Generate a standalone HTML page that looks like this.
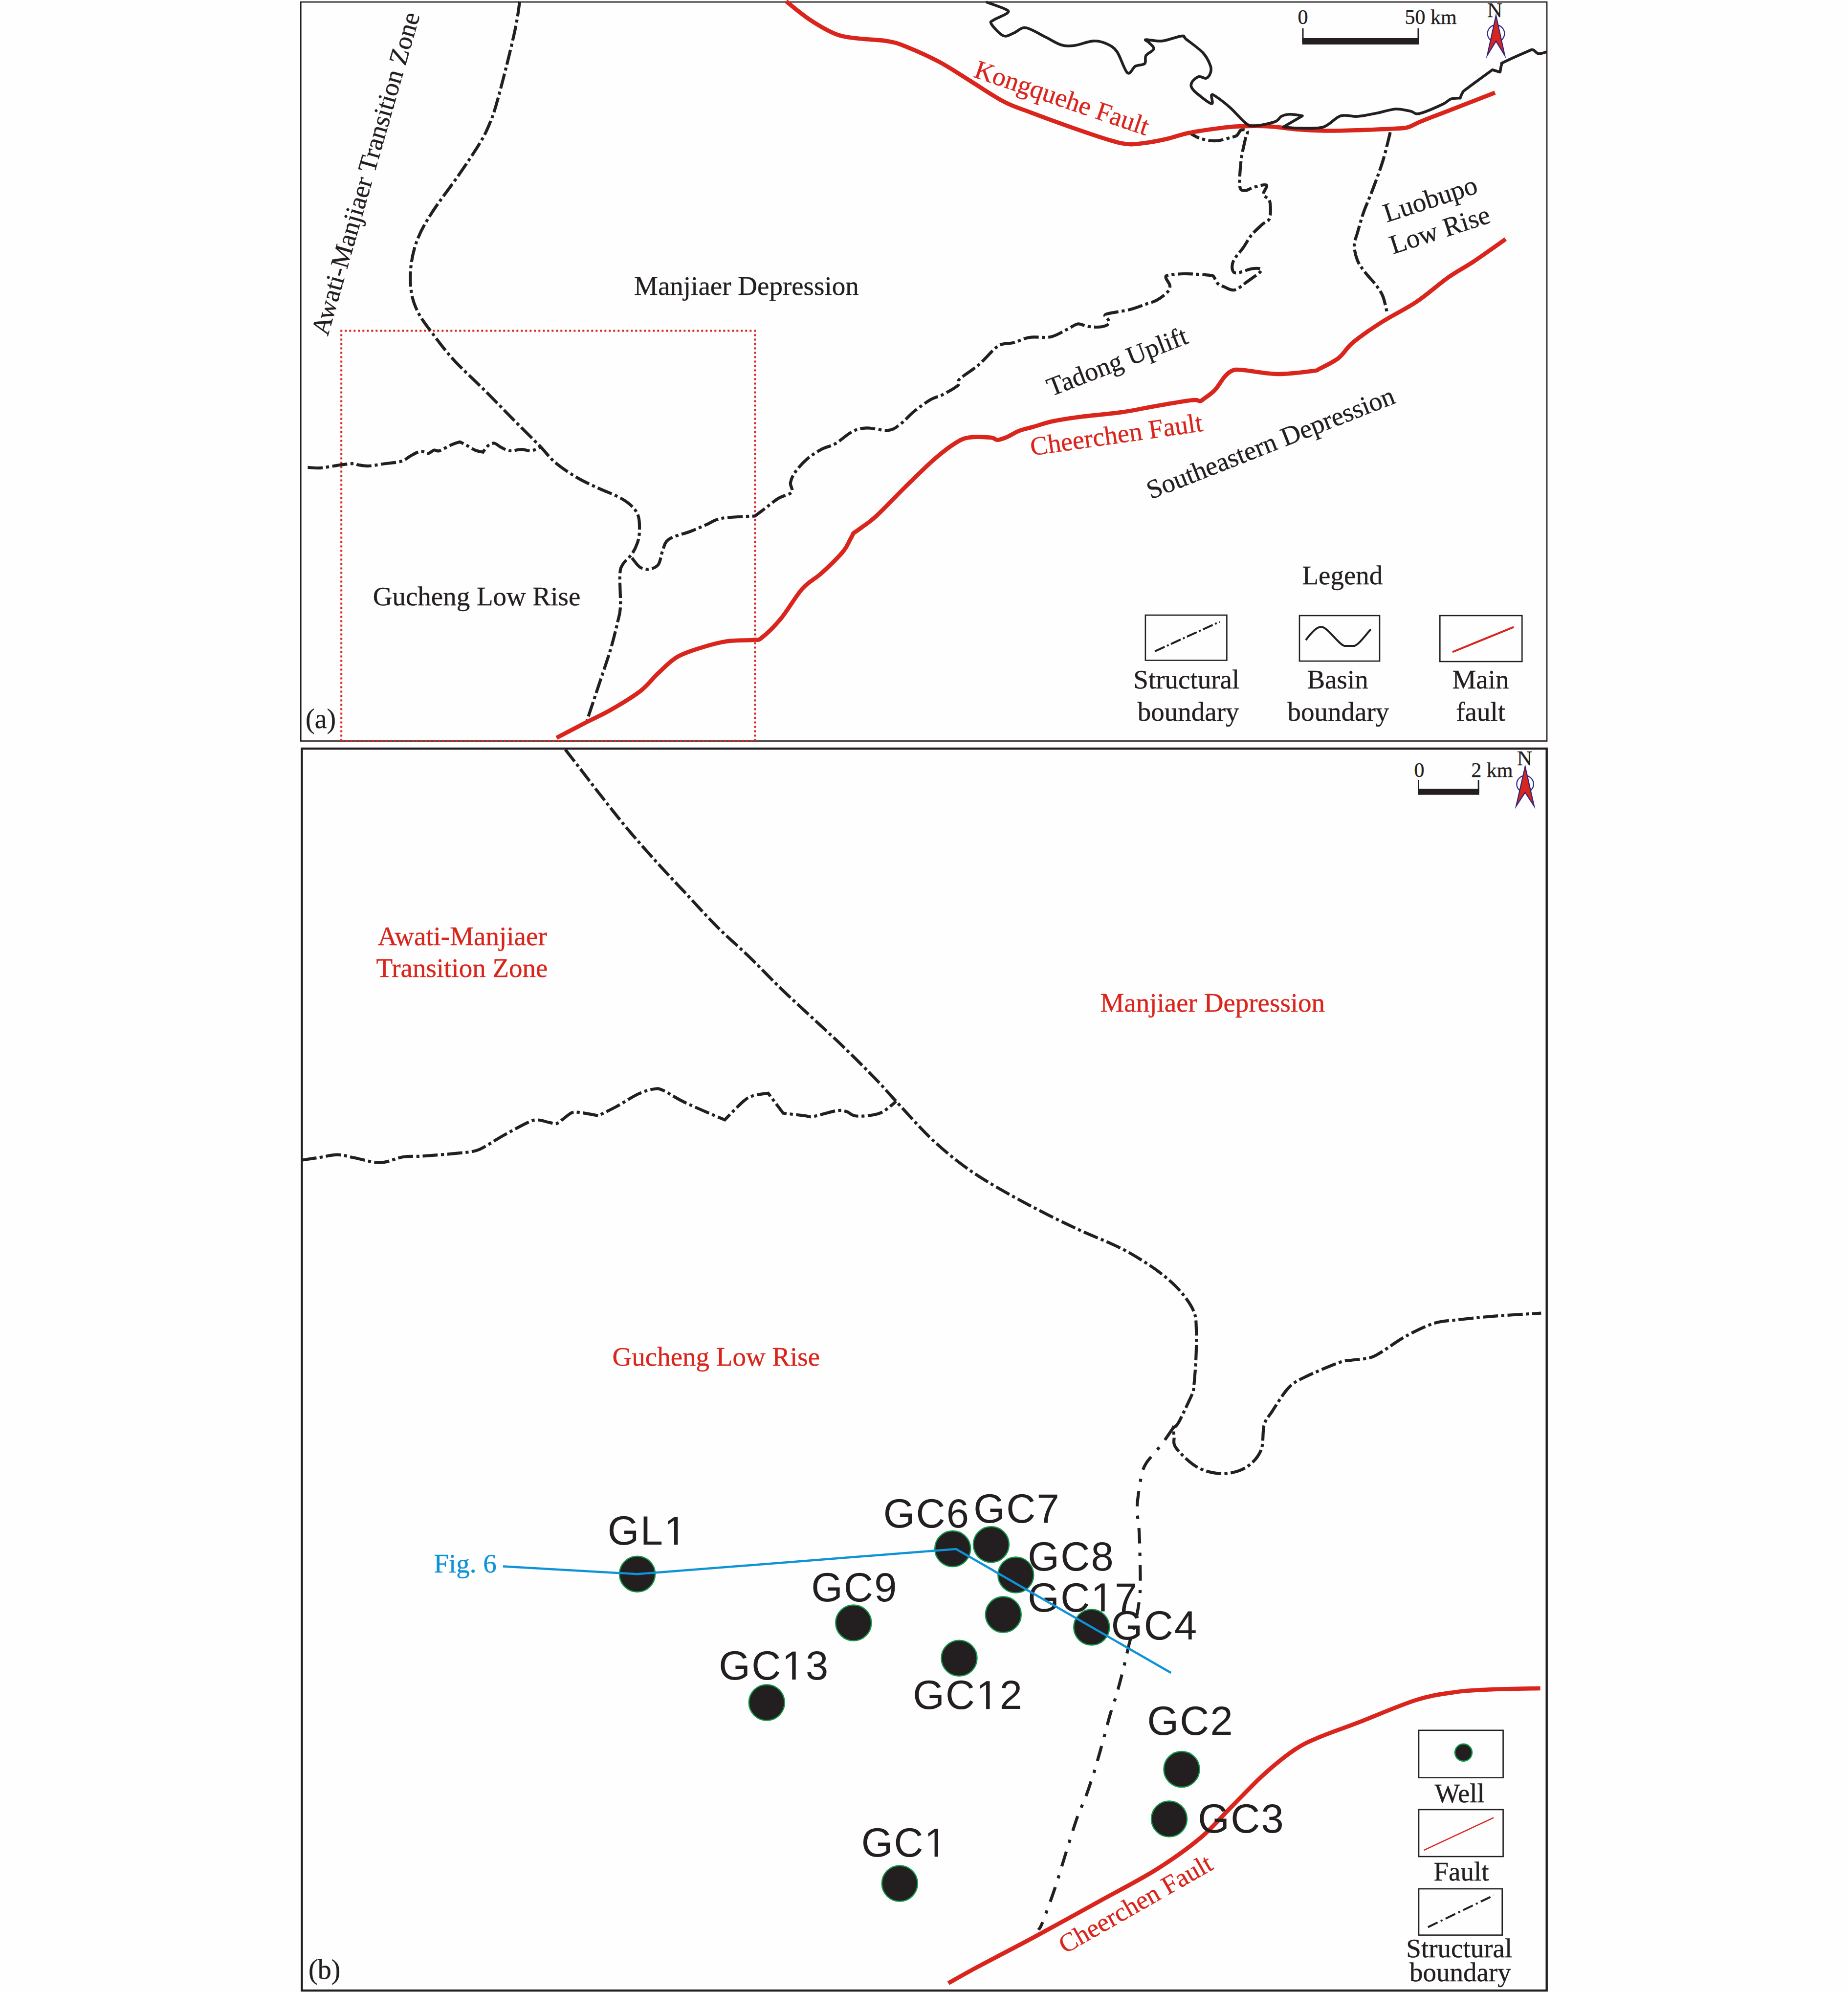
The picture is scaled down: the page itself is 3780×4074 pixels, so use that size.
<!DOCTYPE html>
<html><head><meta charset="utf-8"><style>
html,body{margin:0;padding:0;background:#fefefe;}
svg{display:block;}
</style></head><body>
<svg width="3780" height="4074" viewBox="0 0 3780 4074">
<rect x="0" y="0" width="3780" height="4074" fill="#fefefe"/>
<rect x="615.3" y="4.1" width="2548.8" height="1511.4" fill="none" stroke="#231f20" stroke-width="2.6"/>
<path d="M698.2,1515.5 L698.2,676.6 L1544.3,676.6 L1544.3,1515.5 L698.2,1515.5" fill="none" stroke="#da251d" stroke-width="4" stroke-dasharray="4 5"/>
<path d="M1063.0,3.0 C1061.7,11.5 1059.5,32.0 1055.0,54.0 C1050.5,76.0 1042.8,108.0 1036.0,135.0 C1029.2,162.0 1020.3,196.2 1014.5,216.0 C1008.7,235.8 1006.4,241.3 1001.0,254.0 C995.6,266.7 992.3,274.8 982.0,292.0 C971.7,309.2 955.2,333.5 939.0,357.0 C922.8,380.5 898.7,411.3 884.7,433.0 C870.7,454.7 862.3,469.0 855.0,487.0 C847.7,505.0 843.3,523.0 841.0,541.0 C838.7,559.0 838.7,578.8 841.0,595.0 C843.3,611.2 847.7,624.0 855.0,638.5 C862.3,653.0 872.5,665.8 884.7,682.0 C896.9,698.2 910.0,716.3 928.0,736.0 C946.0,755.7 972.8,779.8 993.0,800.0 C1013.2,820.2 1030.7,838.5 1049.0,857.0 C1067.3,875.5 1088.5,896.2 1103.0,911.0 C1117.5,925.8 1123.0,935.2 1135.7,946.0 C1148.4,956.8 1164.6,967.4 1179.0,976.0 C1193.4,984.6 1207.6,990.8 1222.0,997.6 C1236.4,1004.4 1253.8,1010.3 1265.6,1016.6 C1277.4,1022.9 1285.9,1028.8 1292.6,1035.5 C1299.3,1042.2 1303.5,1048.0 1306.0,1057.0 C1308.5,1066.0 1308.2,1080.6 1307.8,1089.6 C1307.4,1098.6 1306.0,1103.8 1303.5,1111.0 C1301.0,1118.2 1297.6,1125.8 1292.6,1133.0 C1287.6,1140.2 1277.8,1147.3 1273.7,1154.5 C1269.6,1161.7 1268.8,1161.6 1268.0,1176.0 C1267.2,1190.4 1269.8,1224.7 1269.0,1241.0 C1268.2,1257.3 1266.3,1259.1 1263.0,1273.6 C1259.7,1288.0 1254.9,1307.9 1249.0,1327.7 C1243.1,1347.5 1235.8,1368.2 1227.7,1392.6 C1219.6,1416.9 1205.1,1460.3 1200.6,1473.8" fill="none" stroke="#231f20" stroke-width="6.2" stroke-dasharray="31 6.6 6.2 6.6" stroke-dashoffset="0"/>
<path d="M629.5,955.8 C633.8,956.0 644.2,957.9 655.2,957.1 C666.2,956.3 684.5,952.4 695.8,950.9 C707.1,949.4 716.5,948.2 722.8,948.2 C729.1,948.2 728.4,950.1 733.6,950.9 C738.8,951.7 745.9,953.3 754.0,953.0 C762.1,952.7 771.3,950.6 782.3,949.0 C793.3,947.4 810.7,946.3 820.2,943.6 C829.7,940.9 833.8,935.8 839.2,932.8 C844.6,929.8 848.7,927.1 852.7,925.5 C856.8,923.9 859.7,923.0 863.5,923.3 C867.3,923.6 871.6,927.8 875.7,927.3 C879.8,926.8 884.1,921.5 887.9,920.6 C891.7,919.7 892.9,923.8 898.7,922.0 C904.6,920.2 916.0,912.8 923.0,909.8 C930.0,906.8 940.6,903.8 940.6,903.8 C940.6,903.8 947.6,907.0 952.8,909.8 C958.0,912.6 965.8,918.1 971.7,920.6 C977.6,923.1 988.0,924.6 988.0,924.6 C988.0,924.6 995.0,914.1 998.8,911.1 C1002.6,908.1 1007.0,906.0 1011.0,906.5 C1015.0,907.0 1018.8,911.4 1023.1,913.8 C1027.4,916.1 1032.6,919.2 1036.7,920.6 C1040.8,922.0 1042.5,922.1 1047.5,921.9 C1052.5,921.7 1060.1,919.2 1066.4,919.2 C1072.7,919.2 1079.5,922.4 1085.4,921.9 C1091.3,921.4 1098.5,918.0 1101.6,916.5 C1104.7,915.0 1103.6,913.6 1104.0,913.0" fill="none" stroke="#231f20" stroke-width="6.2" stroke-dasharray="31 6.6 6.2 6.6" stroke-dashoffset="0"/>
<path d="M1292.6,1141.0 C1295.3,1144.2 1303.1,1156.2 1309.0,1160.0 C1314.9,1163.8 1321.5,1164.9 1327.8,1164.0 C1334.1,1163.1 1342.2,1160.6 1346.7,1154.5 C1351.2,1148.4 1351.5,1136.1 1355.0,1127.5 C1358.5,1118.9 1358.5,1109.8 1368.0,1103.0 C1377.5,1096.2 1399.0,1091.9 1411.7,1087.0 C1424.4,1082.1 1433.2,1077.9 1444.0,1073.4 C1454.8,1068.9 1459.9,1063.0 1476.6,1060.0 C1493.3,1057.0 1544.0,1055.5 1544.0,1055.5 C1544.0,1055.5 1555.2,1047.1 1563.3,1041.0 C1571.4,1034.9 1583.2,1024.7 1592.5,1019.0 C1601.8,1013.3 1615.2,1012.1 1619.3,1006.8 C1623.4,1001.5 1615.7,994.2 1616.9,987.3 C1618.1,980.4 1620.9,973.5 1626.6,965.4 C1632.3,957.3 1642.1,946.3 1651.0,938.6 C1659.9,930.9 1670.5,924.3 1680.2,919.0 C1689.9,913.7 1698.9,913.1 1709.4,907.0 C1720.0,900.9 1733.0,887.9 1743.5,882.6 C1754.0,877.3 1760.5,875.7 1772.7,875.3 C1784.9,874.9 1805.2,881.4 1816.6,880.2 C1828.0,879.0 1832.1,874.5 1841.0,868.0 C1849.9,861.5 1859.5,849.7 1870.0,841.2 C1880.5,832.7 1894.4,822.6 1904.2,816.9 C1914.0,811.2 1919.3,811.9 1928.6,807.0 C1937.9,802.1 1954.3,793.0 1960.0,787.7 C1965.7,782.5 1955.8,782.4 1962.7,775.5 C1969.6,768.6 1989.4,756.8 2001.6,746.3 C2013.8,735.8 2027.3,719.3 2035.7,712.2 C2044.1,705.1 2045.7,705.4 2052.0,703.5 C2058.3,701.6 2064.6,703.0 2073.6,700.8 C2082.6,698.5 2093.4,692.0 2106.0,690.0 C2118.6,688.0 2136.3,691.7 2149.0,689.0 C2161.7,686.3 2172.8,678.4 2182.0,674.0 C2191.2,669.6 2197.8,663.7 2204.5,662.5 C2211.2,661.3 2215.4,665.9 2222.0,667.0 C2228.6,668.1 2237.3,669.2 2244.0,669.0 C2250.7,668.8 2257.8,667.7 2262.0,666.0 C2266.2,664.3 2268.7,661.7 2269.0,659.0 C2269.3,656.3 2265.5,652.3 2264.0,650.0 C2262.5,647.7 2259.3,646.5 2260.0,645.0 C2260.7,643.5 2259.4,643.0 2268.0,641.0 C2276.6,639.0 2299.0,636.2 2311.7,633.0 C2324.4,629.8 2334.9,625.2 2344.0,622.0 C2353.1,618.8 2358.8,618.0 2366.0,614.0 C2373.2,610.0 2382.9,602.9 2387.4,598.0 C2391.9,593.1 2393.4,589.4 2393.0,584.4 C2392.6,579.4 2385.2,571.6 2384.7,568.0 C2384.2,564.4 2384.1,564.1 2390.0,562.8 C2395.9,561.5 2411.2,560.4 2420.0,560.0 C2428.8,559.6 2434.0,560.1 2443.0,560.6 C2452.0,561.1 2467.5,562.1 2474.0,562.8 C2480.5,563.5 2479.2,562.1 2482.0,565.0 C2484.8,567.9 2487.3,576.4 2491.0,580.0 C2494.7,583.6 2498.2,584.4 2504.0,586.6 C2509.8,588.8 2517.6,594.8 2525.5,593.0 C2533.4,591.2 2542.8,581.9 2551.5,575.8 C2560.2,569.7 2573.2,560.6 2577.5,556.3 C2581.8,552.0 2580.4,550.9 2577.5,549.8 C2574.6,548.7 2567.9,548.4 2560.0,549.8 C2552.1,551.2 2536.5,558.0 2530.0,558.4 C2523.5,558.8 2522.1,556.3 2521.0,552.0 C2519.9,547.7 2519.7,540.1 2523.4,532.5 C2527.1,524.9 2536.9,515.2 2543.0,506.5 C2549.1,497.8 2553.5,488.4 2560.0,480.5 C2566.5,472.6 2575.6,464.8 2581.8,459.0 C2588.0,453.2 2594.5,454.0 2597.0,446.0 C2599.5,438.0 2599.2,419.0 2597.0,411.0 C2594.8,403.0 2585.1,403.4 2584.0,398.0 C2582.9,392.6 2593.8,381.3 2590.5,378.8 C2587.2,376.3 2571.8,381.2 2564.5,383.0 C2557.2,384.8 2551.8,389.9 2547.0,389.6 C2542.2,389.3 2537.4,391.1 2536.0,381.0 C2534.6,370.9 2536.7,344.9 2538.5,329.0 C2540.3,313.1 2544.8,295.8 2547.0,285.7 C2549.2,275.6 2552.9,271.7 2551.5,268.4 C2550.1,265.1 2542.1,264.6 2538.5,266.0 C2534.9,267.4 2533.6,274.4 2530.0,277.0 C2526.4,279.6 2524.2,279.6 2517.0,281.4 C2509.8,283.2 2496.8,287.6 2486.6,288.0 C2476.4,288.4 2464.7,286.1 2456.0,283.5 C2447.3,280.9 2438.2,274.5 2434.6,272.7" fill="none" stroke="#231f20" stroke-width="6.2" stroke-dasharray="31 6.6 6.2 6.6" stroke-dashoffset="0"/>
<path d="M2843.7,270.6 C2841.2,280.3 2834.7,309.2 2828.6,329.0 C2822.5,348.8 2813.5,372.3 2807.0,389.6 C2800.5,406.9 2794.7,418.6 2789.6,433.0 C2784.5,447.4 2779.9,464.5 2776.6,476.0 C2773.3,487.5 2770.0,492.6 2770.0,502.0 C2770.0,511.4 2773.0,523.5 2776.6,532.5 C2780.2,541.5 2785.3,547.6 2791.8,556.3 C2798.3,564.9 2809.5,576.1 2815.6,584.4 C2821.7,592.7 2825.0,597.0 2828.6,606.0 C2832.2,615.0 2835.6,633.1 2837.0,638.5" fill="none" stroke="#231f20" stroke-width="6.2" stroke-dasharray="31 6.6 6.2 6.6" stroke-dashoffset="0"/>
<path d="M1608.0,2.7 C1616.2,9.0 1639.8,29.3 1657.0,40.6 C1674.2,51.9 1694.8,64.0 1711.0,70.3 C1727.2,76.6 1736.8,76.2 1754.0,78.5 C1771.2,80.8 1797.7,81.2 1814.0,83.9 C1830.3,86.6 1833.7,87.5 1851.7,94.7 C1869.7,101.9 1899.5,115.0 1922.0,127.0 C1944.5,139.1 1965.0,153.4 1987.0,167.0 C2009.0,180.6 2033.8,197.8 2054.0,208.3 C2074.2,218.8 2085.6,221.4 2108.2,230.0 C2130.8,238.6 2162.3,250.2 2189.4,259.7 C2216.5,269.2 2250.3,280.9 2270.6,286.8 C2290.9,292.7 2297.5,294.3 2311.0,295.0 C2324.5,295.7 2338.1,292.9 2351.7,290.9 C2365.2,288.8 2378.9,285.9 2392.3,282.7 C2405.7,279.5 2413.6,275.3 2432.3,271.7 C2451.0,268.1 2486.4,263.1 2504.5,260.8 C2522.6,258.5 2525.6,258.5 2540.7,258.1 C2555.8,257.7 2575.0,257.2 2594.8,258.4 C2614.6,259.5 2637.3,263.5 2659.7,265.0 C2682.1,266.5 2697.4,267.8 2729.0,267.5 C2760.6,267.2 2824.4,264.4 2849.4,263.2 C2874.4,262.0 2870.0,262.8 2879.0,260.5 C2888.0,258.2 2895.0,253.2 2903.5,249.6 C2912.0,246.0 2920.1,242.8 2930.0,239.0 C2939.9,235.2 2941.5,234.8 2962.8,226.5 C2984.1,218.2 3042.1,195.7 3058.0,189.5" fill="none" stroke="#da251d" stroke-width="8.6" stroke-linejoin="round"/>
<path d="M1138.4,1509.0 C1148.8,1503.6 1182.2,1486.0 1200.6,1476.5 C1219.0,1467.0 1230.9,1462.4 1249.0,1452.0 C1267.1,1441.6 1292.7,1426.6 1309.0,1414.0 C1325.3,1401.4 1334.1,1388.1 1346.7,1376.4 C1359.3,1364.7 1370.2,1352.6 1384.6,1344.0 C1399.0,1335.4 1415.9,1330.4 1433.0,1325.0 C1450.1,1319.6 1468.9,1314.2 1487.0,1311.5 C1505.1,1308.8 1529.7,1310.0 1541.6,1308.8 C1553.5,1307.5 1549.1,1311.3 1558.4,1304.0 C1567.7,1296.7 1583.6,1281.7 1597.4,1265.0 C1611.2,1248.3 1627.4,1219.4 1641.2,1204.0 C1655.0,1188.6 1666.4,1185.0 1680.2,1172.4 C1694.0,1159.8 1714.3,1140.0 1724.0,1128.6 C1733.7,1117.2 1735.0,1110.5 1738.6,1104.2 C1742.2,1097.9 1745.4,1090.7 1745.4,1090.7 C1745.4,1090.7 1754.2,1084.9 1762.0,1079.0 C1769.8,1073.1 1777.4,1069.2 1792.2,1055.5 C1807.0,1041.8 1831.2,1016.1 1850.7,997.0 C1870.2,977.9 1892.0,956.0 1909.0,941.0 C1926.0,926.0 1940.8,914.7 1953.0,907.0 C1965.2,899.3 1969.8,896.8 1982.0,894.8 C1994.2,892.8 2016.2,894.0 2026.0,894.8 C2035.8,895.6 2034.9,899.9 2040.6,899.7 C2046.3,899.5 2052.7,896.9 2060.0,893.8 C2067.3,890.7 2075.5,884.7 2084.4,881.2 C2093.3,877.7 2102.2,876.2 2113.6,873.0 C2125.0,869.8 2136.5,865.1 2152.6,861.7 C2168.7,858.3 2186.0,855.6 2210.0,852.5 C2234.0,849.4 2271.3,846.4 2296.5,842.8 C2321.7,839.2 2339.8,834.7 2361.4,830.9 C2383.0,827.1 2412.2,822.1 2426.3,820.0 C2440.4,817.9 2441.3,817.9 2446.0,818.0 C2450.7,818.1 2451.8,820.8 2454.5,820.5 C2457.2,820.2 2456.9,819.8 2462.0,816.0 C2467.1,812.2 2477.9,805.3 2485.0,797.8 C2492.1,790.3 2498.8,777.5 2504.5,771.0 C2510.2,764.5 2513.3,761.2 2519.0,758.8 C2524.7,756.4 2523.2,755.4 2538.6,756.4 C2554.0,757.4 2587.3,764.6 2611.7,765.0 C2636.0,765.4 2670.1,760.6 2684.7,758.8 C2699.3,757.0 2690.5,758.5 2699.4,754.0 C2708.3,749.5 2727.0,740.9 2738.3,732.0 C2749.7,723.1 2752.9,712.6 2767.5,700.4 C2782.1,688.2 2804.3,672.9 2826.0,659.0 C2847.7,645.1 2875.0,632.3 2897.8,617.0 C2920.6,601.7 2943.3,580.7 2962.8,567.0 C2982.3,553.3 2995.2,547.6 3014.7,534.6 C3034.2,521.6 3068.8,496.6 3079.6,489.0" fill="none" stroke="#da251d" stroke-width="8.6" stroke-linejoin="round"/>
<path d="M2016.8,4.0 C2023.5,6.5 2049.8,15.2 2057.0,19.0 C2064.2,22.8 2064.0,23.4 2060.0,27.0 C2056.0,30.6 2038.4,37.0 2033.0,40.6 C2027.6,44.2 2024.4,43.3 2027.6,48.7 C2030.8,54.1 2044.3,69.8 2052.0,73.0 C2059.7,76.2 2065.9,70.3 2073.6,67.6 C2081.3,64.9 2087.2,55.4 2098.0,56.8 C2108.8,58.2 2126.3,69.9 2138.5,75.8 C2150.7,81.7 2161.1,89.1 2171.0,92.0 C2180.9,94.9 2187.2,94.3 2198.0,93.0 C2208.8,91.7 2225.2,84.5 2236.0,83.9 C2246.8,83.3 2254.9,85.7 2263.0,89.3 C2271.1,92.9 2277.4,95.6 2284.6,105.5 C2291.8,115.4 2299.7,143.8 2306.0,148.8 C2312.3,153.8 2316.6,138.4 2322.5,135.3 C2328.4,132.2 2337.9,133.6 2341.5,130.0 C2345.1,126.4 2340.9,118.6 2344.0,113.6 C2347.1,108.6 2359.1,104.5 2360.0,100.0 C2360.9,95.5 2352.3,89.8 2349.6,86.6 C2346.9,83.4 2339.5,81.5 2344.0,81.0 C2348.5,80.5 2364.4,85.1 2376.6,83.9 C2388.8,82.7 2409.1,74.2 2417.3,73.6 C2425.5,72.9 2418.8,74.3 2426.0,80.0 C2433.2,85.7 2452.3,99.0 2460.6,108.0 C2468.9,117.0 2473.3,127.3 2475.8,134.2 C2478.3,141.1 2477.3,145.1 2475.8,149.4 C2474.3,153.7 2471.0,158.8 2467.0,160.0 C2463.0,161.2 2456.7,155.6 2452.0,156.7 C2447.3,157.8 2441.5,163.2 2439.0,166.7 C2436.5,170.2 2435.4,173.5 2436.8,177.5 C2438.2,181.5 2440.7,184.8 2447.6,190.5 C2454.5,196.2 2472.9,211.3 2478.0,212.0 C2483.1,212.7 2476.6,197.3 2478.0,194.8 C2479.4,192.3 2480.1,192.7 2486.6,197.0 C2493.1,201.3 2506.9,211.8 2517.0,220.8 C2527.1,229.8 2539.1,244.9 2547.0,251.0 C2554.9,257.1 2554.4,257.9 2564.5,257.6 C2574.6,257.3 2598.4,252.3 2607.8,249.0 C2617.2,245.7 2615.8,240.5 2620.8,238.0 C2625.8,235.5 2630.8,234.0 2638.0,233.8 C2645.2,233.6 2664.0,237.0 2664.0,237.0 C2664.0,237.0 2625.0,259.7 2625.0,259.7 C2625.0,259.7 2646.0,262.0 2659.7,262.0 C2673.4,262.0 2693.3,263.9 2707.0,259.7 C2720.7,255.5 2730.4,240.6 2742.0,237.0 C2753.6,233.4 2764.3,238.9 2776.6,238.0 C2788.9,237.1 2802.6,234.1 2815.6,231.6 C2828.6,229.1 2843.0,223.7 2854.5,223.0 C2866.0,222.3 2876.6,225.8 2884.8,227.3 C2893.0,228.8 2892.5,234.5 2903.5,232.2 C2914.5,229.9 2939.9,218.4 2950.6,213.4 C2961.3,208.4 2961.9,204.5 2967.9,202.4 C2973.9,200.3 2986.7,200.8 2986.7,200.8 C2986.7,200.8 2989.3,193.0 2991.4,189.9 C2993.5,186.8 2989.1,189.8 2999.3,182.0 C3009.5,174.2 3052.6,142.8 3052.6,142.8 C3052.6,142.8 3068.3,147.5 3068.3,147.5 C3068.3,147.5 3070.2,135.2 3071.5,131.8 C3072.8,128.4 3067.3,131.6 3076.2,127.1 C3085.1,122.6 3114.9,109.3 3124.8,105.1 C3134.7,100.9 3132.1,101.2 3135.8,102.0 C3139.5,102.8 3142.1,109.1 3146.8,109.8 C3151.5,110.5 3161.1,106.6 3164.0,106.0" fill="none" stroke="#231f20" stroke-width="5.6" stroke-linejoin="round"/>
<text x="1297.0" y="603.4" font-family="Liberation Serif" font-size="55.0" fill="#231f20" stroke="#231f20" stroke-width="0.40" >Manjiaer Depression</text>
<text x="762.7" y="1238.4" font-family="Liberation Serif" font-size="55.0" fill="#231f20" stroke="#231f20" stroke-width="0.40" >Gucheng Low Rise</text>
<text x="2663.4" y="1194.7" font-family="Liberation Serif" font-size="55.0" fill="#231f20" stroke="#231f20" stroke-width="0.40" >Legend</text>
<text x="2318.3" y="1408.0" font-family="Liberation Serif" font-size="55.0" fill="#231f20" stroke="#231f20" stroke-width="0.40" >Structural</text>
<text x="2326.8" y="1473.8" font-family="Liberation Serif" font-size="55.0" fill="#231f20" stroke="#231f20" stroke-width="0.40" >boundary</text>
<text x="2673.4" y="1408.0" font-family="Liberation Serif" font-size="55.0" fill="#231f20" stroke="#231f20" stroke-width="0.40" >Basin</text>
<text x="2633.6" y="1473.8" font-family="Liberation Serif" font-size="55.0" fill="#231f20" stroke="#231f20" stroke-width="0.40" >boundary</text>
<text x="2970.4" y="1408.0" font-family="Liberation Serif" font-size="55.0" fill="#231f20" stroke="#231f20" stroke-width="0.40" >Main</text>
<text x="2978.3" y="1473.8" font-family="Liberation Serif" font-size="55.0" fill="#231f20" stroke="#231f20" stroke-width="0.40" >fault</text>
<text x="625.1" y="1489.3" font-family="Liberation Serif" font-size="56.0" fill="#231f20" stroke="#231f20" stroke-width="0.40" >(a)</text>
<text x="2654.4" y="48.8" font-family="Liberation Serif" font-size="42.0" fill="#231f20" stroke="#231f20" stroke-width="0.40" >0</text>
<text x="2873.6" y="48.8" font-family="Liberation Serif" font-size="42.0" fill="#231f20" stroke="#231f20" stroke-width="0.40" >50 km</text>
<text x="3042.0" y="35.2" font-family="Liberation Serif" font-size="43.0" fill="#231f20" stroke="#231f20" stroke-width="0.40" >N</text>
<text x="670.5" y="688.6" font-family="Liberation Serif" font-size="53.0" fill="#231f20" stroke="#231f20" stroke-width="0.40" transform="rotate(-74.00 670.5 688.6)" >Awati-Manjiaer Transition Zone</text>
<text x="1989.7" y="157.0" font-family="Liberation Serif" font-size="54.0" fill="#da251d" stroke="#da251d" stroke-width="0.40" transform="rotate(18.80 1989.7 157.0)" >Kongquehe Fault</text>
<text x="2150.0" y="811.0" font-family="Liberation Serif" font-size="54.0" fill="#231f20" stroke="#231f20" stroke-width="0.40" transform="rotate(-21.20 2150.0 811.0)" >Tadong Uplift</text>
<text x="2836.5" y="455.0" font-family="Liberation Serif" font-size="55.0" fill="#231f20" stroke="#231f20" stroke-width="0.40" transform="rotate(-18.00 2836.5 455.0)" >Luobupo</text>
<text x="2849.5" y="520.0" font-family="Liberation Serif" font-size="55.0" fill="#231f20" stroke="#231f20" stroke-width="0.40" transform="rotate(-18.00 2849.5 520.0)" >Low Rise</text>
<text x="2110.0" y="932.0" font-family="Liberation Serif" font-size="54.0" fill="#da251d" stroke="#da251d" stroke-width="0.40" transform="rotate(-8.20 2110.0 932.0)" >Cheerchen Fault</text>
<text x="2354.0" y="1021.5" font-family="Liberation Serif" font-size="54.5" fill="#231f20" stroke="#231f20" stroke-width="0.40" transform="rotate(-21.50 2354.0 1021.5)" >Southeastern Depression</text>
<rect x="2342.9" y="1258.0" width="166.5" height="92.5" fill="none" stroke="#231f20" stroke-width="2.6"/>
<rect x="2658.0" y="1259.0" width="164.0" height="93.0" fill="none" stroke="#231f20" stroke-width="2.6"/>
<rect x="2945.3" y="1259.0" width="168.0" height="94.0" fill="none" stroke="#231f20" stroke-width="2.6"/>
<path d="M2362.3,1332 L2494.8,1271.6" fill="none" stroke="#231f20" stroke-width="4" stroke-dasharray="22 5 4 5"/>
<path d="M2671,1309 C2685,1290 2695,1281 2703,1282 C2716,1283 2738,1318 2750,1321 L2770,1321 C2780,1318 2792,1300 2804,1287.2" fill="none" stroke="#231f20" stroke-width="4"/>
<path d="M2971,1333.5 L3096.3,1282.4" fill="none" stroke="#da251d" stroke-width="4"/>
<path d="M2665,58 L2665,85 L2901,85 L2901,58" fill="none" stroke="#231f20" stroke-width="3"/>
<rect x="2663.5" y="78" width="239" height="13" fill="#231f20"/>
<circle cx="3060.0" cy="68.6" r="17.4" fill="none" stroke="#2b2681" stroke-width="2.2"/>
<path d="M3060.0,31.7 L3078.0,113.5 L3060.0,84.2 L3042.0,113.5 Z" fill="#da251d" stroke="#2b2681" stroke-width="2.2" stroke-linejoin="miter" stroke-miterlimit="20"/>
<rect x="617.4" y="1531" width="2546.3" height="2540.0" fill="none" stroke="#231f20" stroke-width="4.4"/>
<path d="M1156.3,1533.0 C1161.3,1539.5 1174.3,1556.1 1186.6,1572.0 C1198.9,1587.9 1214.0,1608.0 1229.9,1628.2 C1245.8,1648.4 1263.0,1670.8 1281.8,1693.2 C1300.5,1715.6 1322.2,1740.0 1342.4,1762.4 C1362.6,1784.8 1382.1,1805.0 1403.0,1827.4 C1423.9,1849.8 1446.3,1875.0 1468.0,1896.6 C1489.7,1918.2 1511.3,1936.3 1532.9,1957.2 C1554.5,1978.1 1576.2,2001.3 1597.8,2022.2 C1619.4,2043.1 1641.1,2062.6 1662.8,2082.8 C1684.5,2103.0 1706.1,2122.5 1727.7,2143.4 C1749.3,2164.3 1775.1,2190.2 1792.6,2208.3 C1810.1,2226.4 1814.8,2232.8 1832.8,2252.2 C1850.8,2271.6 1879.2,2303.9 1900.4,2324.5 C1921.6,2345.1 1940.2,2360.6 1960.0,2375.9 C1979.8,2391.2 1995.2,2401.6 2019.5,2416.5 C2043.8,2431.4 2076.2,2449.4 2106.0,2465.2 C2135.8,2480.9 2168.2,2497.0 2198.0,2511.0 C2227.8,2525.0 2262.0,2538.2 2284.6,2549.0 C2307.2,2559.8 2318.0,2566.5 2333.3,2576.0 C2348.6,2585.5 2363.1,2595.0 2376.6,2605.8 C2390.1,2616.6 2403.7,2628.4 2414.5,2641.0 C2425.3,2653.6 2436.2,2668.5 2441.6,2681.6 C2447.0,2694.7 2446.3,2702.4 2447.0,2719.5 C2447.7,2736.6 2447.0,2763.3 2446.0,2784.4 C2445.0,2805.5 2441.0,2846.0 2441.0,2846.0 C2441.0,2846.0 2418.3,2895.5 2411.6,2907.7 C2404.8,2919.9 2400.5,2919.0 2400.5,2919.0 C2400.5,2919.0 2400.6,2930.8 2401.5,2938.0 C2402.4,2945.2 2398.0,2951.4 2406.0,2961.9 C2414.0,2972.4 2433.5,2992.2 2449.4,3000.9 C2465.3,3009.6 2484.7,3013.9 2501.3,3013.9 C2517.9,3013.9 2535.9,3008.9 2548.9,3000.9 C2561.9,2992.9 2573.1,2980.6 2579.2,2966.2 C2585.3,2951.8 2581.9,2927.6 2585.7,2914.3 C2589.5,2901.1 2593.6,2899.4 2602.0,2886.7 C2610.4,2874.0 2624.7,2849.8 2636.0,2838.0 C2647.3,2826.2 2652.9,2824.5 2670.0,2816.0 C2687.1,2807.5 2722.9,2792.6 2738.3,2786.9 C2753.8,2781.2 2752.1,2783.6 2762.7,2782.0 C2773.2,2780.4 2791.0,2779.9 2801.6,2777.1 C2812.2,2774.3 2813.8,2772.3 2826.0,2765.0 C2838.2,2757.7 2856.9,2743.1 2874.7,2733.3 C2892.5,2723.6 2915.2,2712.2 2933.0,2706.5 C2950.8,2700.8 2961.5,2701.6 2981.8,2699.2 C3002.1,2696.8 3026.5,2694.2 3054.9,2691.9 C3083.3,2689.6 3136.1,2686.7 3152.3,2685.6" fill="none" stroke="#231f20" stroke-width="6.2" stroke-dasharray="31 6.6 6.2 6.6" stroke-dashoffset="0"/>
<path d="M616.7,2372.7 C622.3,2371.9 638.0,2369.5 650.3,2367.7 C662.6,2365.9 678.2,2361.7 690.5,2361.7 C702.8,2361.7 709.6,2365.0 724.1,2367.7 C738.6,2370.4 761.0,2378.1 777.8,2377.8 C794.6,2377.5 810.3,2368.2 824.8,2366.0 C839.3,2363.8 844.9,2365.8 865.0,2364.4 C885.1,2363.0 927.1,2359.7 945.6,2357.7 C964.1,2355.7 967.4,2355.1 975.8,2352.6 C984.2,2350.1 986.9,2347.6 995.9,2342.6 C1004.9,2337.6 1015.5,2330.2 1029.5,2322.4 C1043.5,2314.6 1068.1,2300.9 1079.8,2295.6 C1091.5,2290.3 1092.6,2290.5 1099.9,2290.5 C1107.2,2290.5 1117.0,2294.4 1123.4,2295.6 C1129.8,2296.8 1133.5,2299.3 1138.5,2297.9 C1143.5,2296.5 1148.3,2290.9 1153.6,2287.2 C1158.9,2283.4 1164.8,2277.4 1170.4,2275.4 C1176.0,2273.4 1178.4,2274.3 1187.2,2275.4 C1196.0,2276.5 1223.4,2281.8 1223.4,2281.8 C1223.4,2281.8 1247.3,2270.5 1260.9,2263.1 C1274.5,2255.7 1292.4,2243.5 1305.2,2237.5 C1318.0,2231.5 1329.1,2228.6 1337.6,2227.3 C1346.1,2226.1 1345.9,2225.4 1356.4,2230.0 C1366.9,2234.6 1379.7,2244.5 1400.7,2254.6 C1421.7,2264.7 1482.5,2290.4 1482.5,2290.4 C1482.5,2290.4 1510.3,2261.1 1520.0,2252.8 C1529.7,2244.6 1532.0,2243.7 1540.5,2240.9 C1549.0,2238.1 1571.2,2235.8 1571.2,2235.8 C1571.2,2235.8 1601.9,2276.7 1601.9,2276.7 C1601.9,2276.7 1636.0,2280.7 1646.2,2281.8 C1656.4,2282.9 1652.4,2285.2 1663.2,2283.5 C1674.0,2281.8 1699.6,2273.3 1711.0,2271.6 C1722.4,2269.9 1724.6,2271.5 1731.4,2273.3 C1738.2,2275.1 1740.5,2281.9 1751.9,2282.5 C1763.3,2283.1 1786.1,2281.8 1799.6,2276.7 C1813.1,2271.6 1832.8,2252.2 1832.8,2252.2" fill="none" stroke="#231f20" stroke-width="6.2" stroke-dasharray="31 6.6 6.2 6.6" stroke-dashoffset="0"/>
<path d="M2400.5,2919.0 C2400.5,2919.0 2385.5,2941.3 2379.4,2949.6 C2373.3,2957.9 2369.8,2961.7 2364.1,2968.7 C2358.4,2975.7 2349.8,2984.0 2345.0,2991.6 C2340.2,2999.2 2338.3,3003.1 2335.5,3014.5 C2332.7,3025.9 2329.5,3047.6 2327.9,3060.3 C2326.3,3073.0 2325.7,3079.4 2326.0,3090.8 C2326.3,3102.2 2328.9,3113.4 2329.8,3129.0 C2330.8,3144.6 2331.4,3162.8 2331.7,3184.4 C2332.0,3206.0 2333.3,3236.2 2331.7,3258.8 C2330.1,3281.4 2325.5,3303.3 2322.0,3319.8 C2318.5,3336.3 2314.5,3343.4 2310.7,3358.0 C2306.9,3372.6 2303.6,3389.8 2299.2,3407.6 C2294.8,3425.4 2288.8,3448.3 2284.0,3464.9 C2279.2,3481.5 2275.0,3491.6 2270.6,3506.9 C2266.2,3522.2 2262.4,3538.1 2257.3,3556.5 C2252.2,3574.9 2244.5,3602.3 2240.0,3617.6 C2235.5,3632.8 2233.5,3638.0 2230.1,3648.0 C2226.7,3658.0 2224.2,3666.0 2219.7,3677.8 C2215.1,3689.6 2209.4,3700.1 2202.8,3718.7 C2196.2,3737.3 2187.8,3765.6 2180.3,3789.4 C2172.8,3813.2 2165.8,3837.9 2157.8,3861.7 C2149.8,3885.5 2137.7,3918.2 2132.1,3932.4 C2126.5,3946.6 2125.4,3944.4 2124.1,3946.8" fill="none" stroke="#231f20" stroke-width="6.2" stroke-dasharray="31.5 19 6.5 19"/>
<path d="M1939.8,4056.0 C1949.8,4050.4 1970.5,4038.3 2000.0,4022.5 C2029.5,4006.7 2075.8,3983.1 2116.9,3960.9 C2158.0,3938.7 2205.7,3912.1 2246.8,3889.4 C2287.9,3866.7 2329.0,3846.1 2363.6,3824.5 C2398.2,3802.9 2428.5,3781.2 2454.5,3759.6 C2480.5,3737.9 2497.8,3716.2 2519.5,3694.6 C2541.2,3672.9 2562.8,3649.2 2584.4,3629.7 C2606.1,3610.2 2629.9,3590.7 2649.4,3577.7 C2668.9,3564.7 2679.7,3561.0 2701.3,3551.8 C2722.9,3542.6 2746.7,3535.0 2779.2,3522.5 C2811.7,3510.0 2863.6,3487.3 2896.1,3477.0 C2928.6,3466.7 2950.2,3464.5 2974.0,3460.9 C2997.8,3457.3 3009.6,3457.0 3039.0,3455.7 C3068.4,3454.4 3132.0,3453.4 3150.6,3453.0" fill="none" stroke="#da251d" stroke-width="8.6" stroke-linejoin="round"/>
<circle cx="1303.6" cy="3219.2" r="36.5" fill="#231f20" stroke="#12994a" stroke-width="2.5"/>
<circle cx="1568.3" cy="3482.0" r="36.5" fill="#231f20" stroke="#12994a" stroke-width="2.5"/>
<circle cx="1948.7" cy="3167.5" r="36.5" fill="#231f20" stroke="#12994a" stroke-width="2.5"/>
<circle cx="2027.4" cy="3158.8" r="36.5" fill="#231f20" stroke="#12994a" stroke-width="2.5"/>
<circle cx="2077.8" cy="3221.0" r="36.5" fill="#231f20" stroke="#12994a" stroke-width="2.5"/>
<circle cx="2052.3" cy="3302.0" r="36.5" fill="#231f20" stroke="#12994a" stroke-width="2.5"/>
<circle cx="2232.8" cy="3328.0" r="36.5" fill="#231f20" stroke="#12994a" stroke-width="2.5"/>
<circle cx="1745.8" cy="3319.0" r="36.5" fill="#231f20" stroke="#12994a" stroke-width="2.5"/>
<circle cx="1962.0" cy="3391.3" r="36.5" fill="#231f20" stroke="#12994a" stroke-width="2.5"/>
<circle cx="2417.0" cy="3618.5" r="36.5" fill="#231f20" stroke="#12994a" stroke-width="2.5"/>
<circle cx="2391.5" cy="3720.0" r="36.5" fill="#231f20" stroke="#12994a" stroke-width="2.5"/>
<circle cx="1840.3" cy="3852.0" r="36.5" fill="#231f20" stroke="#12994a" stroke-width="2.5"/>
<text x="772.5" y="1932.9" font-family="Liberation Serif" font-size="55.0" fill="#da251d" stroke="#da251d" stroke-width="0.40" >Awati-Manjiaer</text>
<text x="769.5" y="1997.8" font-family="Liberation Serif" font-size="55.0" fill="#da251d" stroke="#da251d" stroke-width="0.40" >Transition Zone</text>
<text x="2250.4" y="2068.5" font-family="Liberation Serif" font-size="55.0" fill="#da251d" stroke="#da251d" stroke-width="0.40" >Manjiaer Depression</text>
<text x="1252.5" y="2792.5" font-family="Liberation Serif" font-size="55.0" fill="#da251d" stroke="#da251d" stroke-width="0.40" >Gucheng Low Rise</text>
<text x="887.4" y="3215.7" font-family="Liberation Serif" font-size="55.0" fill="#0e92d8" stroke="#0e92d8" stroke-width="0.40" >Fig. 6</text>
<text x="2934.4" y="3685.6" font-family="Liberation Serif" font-size="55.0" fill="#231f20" stroke="#231f20" stroke-width="0.40" >Well</text>
<text x="2932.4" y="3846.0" font-family="Liberation Serif" font-size="55.0" fill="#231f20" stroke="#231f20" stroke-width="0.40" >Fault</text>
<text x="2876.3" y="4003.0" font-family="Liberation Serif" font-size="55.0" fill="#231f20" stroke="#231f20" stroke-width="0.40" >Structural</text>
<text x="2883.0" y="4051.8" font-family="Liberation Serif" font-size="55.0" fill="#231f20" stroke="#231f20" stroke-width="0.40" >boundary</text>
<text x="631.0" y="4047.2" font-family="Liberation Serif" font-size="56.0" fill="#231f20" stroke="#231f20" stroke-width="0.40" >(b)</text>
<text x="2892.4" y="1588.6" font-family="Liberation Serif" font-size="42.0" fill="#231f20" stroke="#231f20" stroke-width="0.40" >0</text>
<text x="3009.2" y="1588.6" font-family="Liberation Serif" font-size="42.0" fill="#231f20" stroke="#231f20" stroke-width="0.40" >2 km</text>
<text x="3102.9" y="1565.2" font-family="Liberation Serif" font-size="43.0" fill="#231f20" stroke="#231f20" stroke-width="0.40" >N</text>
<text x="2178.6" y="3996.6" font-family="Liberation Serif" font-size="53.5" fill="#da251d" stroke="#da251d" stroke-width="0.40" transform="rotate(-29.80 2178.6 3996.6)" >Cheerchen Fault</text>
<text x="1242.83" y="3159.3" font-family="Liberation Sans" font-size="83.0" fill="#231f20">G</text>
<text x="1309.69" y="3159.3" font-family="Liberation Sans" font-size="83.0" fill="#231f20">L</text>
<polygon points="1379.02,3159.30 1379.02,3109.17 1366.13,3118.37 1366.13,3111.48 1379.63,3102.20 1386.35,3102.20 1386.35,3159.30" fill="#231f20"/>
<text x="1470.33" y="3434.9" font-family="Liberation Sans" font-size="83.0" fill="#231f20">G</text>
<text x="1537.19" y="3434.9" font-family="Liberation Sans" font-size="83.0" fill="#231f20">C</text>
<polygon points="1620.30,3434.90 1620.30,3384.77 1607.41,3393.97 1607.41,3387.08 1620.91,3377.80 1627.63,3377.80 1627.63,3434.90" fill="#231f20"/>
<text x="1647.89" y="3434.9" font-family="Liberation Sans" font-size="83.0" fill="#231f20">3</text>
<text x="1806.73" y="3124.2" font-family="Liberation Sans" font-size="83.0" fill="#231f20">G</text>
<text x="1873.59" y="3124.2" font-family="Liberation Sans" font-size="83.0" fill="#231f20">C</text>
<text x="1935.83" y="3124.2" font-family="Liberation Sans" font-size="83.0" fill="#231f20">6</text>
<text x="1991.33" y="3114.4" font-family="Liberation Sans" font-size="83.0" fill="#231f20">G</text>
<text x="2058.19" y="3114.4" font-family="Liberation Sans" font-size="83.0" fill="#231f20">C</text>
<text x="2120.43" y="3114.4" font-family="Liberation Sans" font-size="83.0" fill="#231f20">7</text>
<text x="2102.33" y="3211.9" font-family="Liberation Sans" font-size="83.0" fill="#231f20">G</text>
<text x="2169.19" y="3211.9" font-family="Liberation Sans" font-size="83.0" fill="#231f20">C</text>
<text x="2231.43" y="3211.9" font-family="Liberation Sans" font-size="83.0" fill="#231f20">8</text>
<text x="2102.33" y="3295.6" font-family="Liberation Sans" font-size="83.0" fill="#231f20">G</text>
<text x="2169.19" y="3295.6" font-family="Liberation Sans" font-size="83.0" fill="#231f20">C</text>
<polygon points="2252.30,3295.60 2252.30,3245.47 2239.41,3254.67 2239.41,3247.78 2252.91,3238.50 2259.63,3238.50 2259.63,3295.60" fill="#231f20"/>
<text x="2279.89" y="3295.6" font-family="Liberation Sans" font-size="83.0" fill="#231f20">7</text>
<text x="2272.83" y="3353.0" font-family="Liberation Sans" font-size="83.0" fill="#231f20">G</text>
<text x="2339.69" y="3353.0" font-family="Liberation Sans" font-size="83.0" fill="#231f20">C</text>
<text x="2401.93" y="3353.0" font-family="Liberation Sans" font-size="83.0" fill="#231f20">4</text>
<text x="1659.13" y="3275.2" font-family="Liberation Sans" font-size="83.0" fill="#231f20">G</text>
<text x="1725.99" y="3275.2" font-family="Liberation Sans" font-size="83.0" fill="#231f20">C</text>
<text x="1788.23" y="3275.2" font-family="Liberation Sans" font-size="83.0" fill="#231f20">9</text>
<text x="1867.13" y="3495.3" font-family="Liberation Sans" font-size="83.0" fill="#231f20">G</text>
<text x="1933.99" y="3495.3" font-family="Liberation Sans" font-size="83.0" fill="#231f20">C</text>
<polygon points="2017.10,3495.30 2017.10,3445.17 2004.21,3454.37 2004.21,3447.48 2017.71,3438.20 2024.43,3438.20 2024.43,3495.30" fill="#231f20"/>
<text x="2044.69" y="3495.3" font-family="Liberation Sans" font-size="83.0" fill="#231f20">2</text>
<text x="2346.43" y="3548.0" font-family="Liberation Sans" font-size="83.0" fill="#231f20">G</text>
<text x="2413.29" y="3548.0" font-family="Liberation Sans" font-size="83.0" fill="#231f20">C</text>
<text x="2475.53" y="3548.0" font-family="Liberation Sans" font-size="83.0" fill="#231f20">2</text>
<text x="2450.33" y="3747.9" font-family="Liberation Sans" font-size="83.0" fill="#231f20">G</text>
<text x="2517.19" y="3747.9" font-family="Liberation Sans" font-size="83.0" fill="#231f20">C</text>
<text x="2579.43" y="3747.9" font-family="Liberation Sans" font-size="83.0" fill="#231f20">3</text>
<text x="1761.63" y="3797.2" font-family="Liberation Sans" font-size="83.0" fill="#231f20">G</text>
<text x="1828.49" y="3797.2" font-family="Liberation Sans" font-size="83.0" fill="#231f20">C</text>
<polygon points="1911.60,3797.20 1911.60,3747.07 1898.71,3756.27 1898.71,3749.38 1912.21,3740.10 1918.93,3740.10 1918.93,3797.20" fill="#231f20"/>
<path d="M1029.0,3203.6 L1303.6,3219.2 L1955.5,3168.0 L2395.3,3421.3" fill="none" stroke="#0e92d8" stroke-width="4.5"/>
<rect x="2902.0" y="3538.8" width="172.6" height="96.9" fill="none" stroke="#231f20" stroke-width="2.6"/>
<rect x="2902.0" y="3701.0" width="172.6" height="96.0" fill="none" stroke="#231f20" stroke-width="2.6"/>
<rect x="2902.0" y="3863.0" width="170.7" height="94.6" fill="none" stroke="#231f20" stroke-width="2.6"/>
<circle cx="2993.5" cy="3584.2" r="17.5" fill="#231f20" stroke="#12994a" stroke-width="2.5"/>
<path d="M2912.3,3784.2 L3055.2,3717.4" fill="none" stroke="#da251d" stroke-width="2.5"/>
<path d="M2920.8,3941.4 L3055.2,3876.4" fill="none" stroke="#231f20" stroke-width="4" stroke-dasharray="22 7 4 7"/>
<path d="M2901.5,1595 L2901.5,1620 L3024.2,1620 L3024.2,1595" fill="none" stroke="#231f20" stroke-width="3"/>
<rect x="2900" y="1613" width="125.7" height="12.6" fill="#231f20"/>
<circle cx="3119.6" cy="1603.6" r="17.2" fill="none" stroke="#2b2681" stroke-width="2.2"/>
<path d="M3119.6,1567.6 L3138.0,1648.7 L3119.6,1620.7 L3101.2,1648.7 Z" fill="#da251d" stroke="#2b2681" stroke-width="2.2" stroke-linejoin="miter" stroke-miterlimit="20"/>
</svg></body></html>
